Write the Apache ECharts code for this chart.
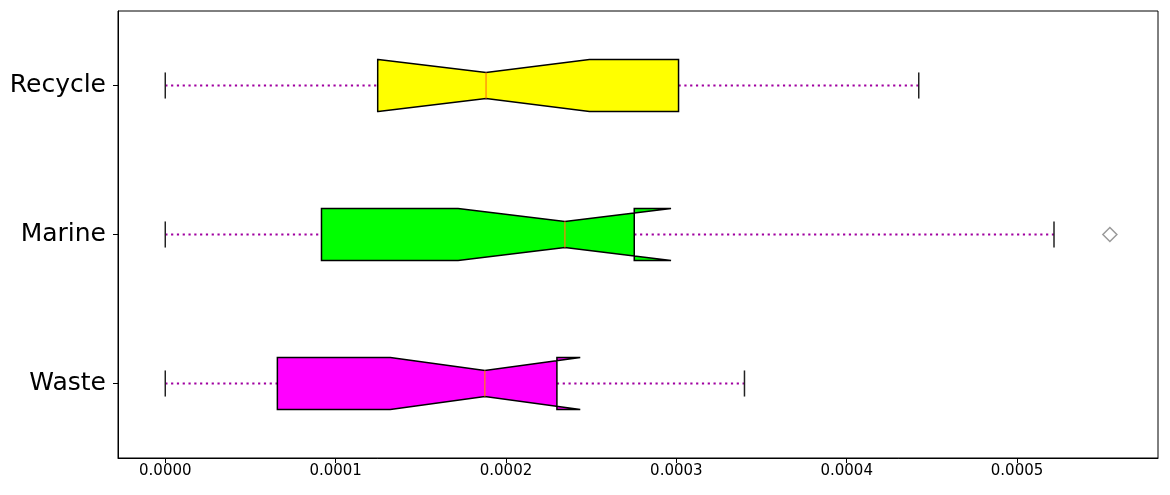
<!DOCTYPE html>
<html>
<head>
<meta charset="utf-8">
<script src="https://cdn.jsdelivr.net/npm/echarts@6/dist/echarts.min.js"></script>
<style>
  html, body { margin: 0; padding: 0; background: #fff; }
  #chart { width: 1170px; height: 495px; }
</style>
</head>
<body>
<div id="chart"></div>
<script>
// Categories listed bottom-to-top (ECharts category axis order)
const categories = ['Waste', 'Marine', 'Recycle'];
const whiskerLow  = [0, 0, 0];
const q1Values    = [0.0000658, 0.0000917, 0.0001247];
const notchLow    = [0.0001321, 0.0001719, 0.0001250];
const medianVals  = [0.0001876, 0.0002346, 0.0001883];
const notchHigh   = [0.0002436, 0.0002969, 0.0002490];
const q3Values    = [0.0002299, 0.0002753, 0.0003013];
const whiskerHigh = [0.0003400, 0.0005217, 0.0004423];
const outlierCat  = ['Marine'];
const outlierVal  = [0.0005545];
const xTicks      = [0, 0.0001, 0.0002, 0.0003, 0.0004, 0.0005];
const xMin = -0.00002775, xMax = 0.00058275;

const fillColors = ['#ff00ff', '#00ff00', '#ffff00'];

const boxData = categories.map((c, i) => [i, whiskerLow[i], q1Values[i], notchLow[i], medianVals[i], notchHigh[i], q3Values[i], whiskerHigh[i]]);
const outlierData = outlierCat.map((c, k) => [outlierVal[k], categories.indexOf(c)]);

function renderItem(params, api) {
  const i = api.value(0);
  const lo = api.value(1), Q1 = api.value(2), cilo = api.value(3), med = api.value(4),
        cihi = api.value(5), Q3 = api.value(6), hi = api.value(7);
  const y = api.coord([0, i])[1];
  const X = v => api.coord([v, i])[0];
  const band = api.size([0, 1])[1];
  const hw = band * 0.35 / 2;
  const nw = hw / 2;
  const cw = hw / 2;
  const pts = [
    [X(Q1), y + hw], [X(Q1), y - hw], [X(cilo), y - hw], [X(med), y - nw],
    [X(cihi), y - hw], [X(Q3), y - hw], [X(Q3), y + hw], [X(cihi), y + hw],
    [X(med), y + nw], [X(cilo), y + hw], [X(Q1), y + hw]
  ];
  const whiskStyle = { stroke: '#a000a0', lineWidth: 2.2, lineDash: [2.2, 3.6], fill: null };
  const capStyle = { stroke: '#222', lineWidth: 1.5 };
  return {
    type: 'group',
    children: [
      { type: 'line', shape: { x1: X(lo), y1: y, x2: X(Q1), y2: y }, style: whiskStyle },
      { type: 'line', shape: { x1: X(Q3), y1: y, x2: X(hi), y2: y }, style: whiskStyle },
      { type: 'line', shape: { x1: X(lo), y1: y - cw, x2: X(lo), y2: y + cw }, style: capStyle },
      { type: 'line', shape: { x1: X(hi), y1: y - cw, x2: X(hi), y2: y + cw }, style: capStyle },
      { type: 'polygon', shape: { points: pts }, style: { fill: fillColors[i], stroke: '#000', lineWidth: 1.5, lineJoin: 'miter' } },
      { type: 'line', shape: { x1: X(med), y1: y - nw, x2: X(med), y2: y + nw }, style: { stroke: '#ff7f0e', lineWidth: 1.2 } }
    ]
  };
}

const chart = echarts.init(document.getElementById('chart'), null, { renderer: 'canvas' });
chart.setOption({
  animation: false,
  backgroundColor: '#fff',
  grid: { left: 118, right: 12, top: 11, bottom: 37, show: true, borderColor: '#000', borderWidth: 1, backgroundColor: 'transparent' },
  xAxis: {
    type: 'value', min: xMin, max: xMax,
    splitLine: { show: false },
    axisLine: { show: true, onZero: false, lineStyle: { color: '#000', width: 1 } },
    axisTick: { show: true, length: 5, customValues: xTicks, lineStyle: { color: '#000', width: 1 } },
    axisLabel: { customValues: xTicks, formatter: v => Number(v).toFixed(4), fontSize: 15, color: '#000', margin: 6, fontFamily: 'DejaVu Sans' }
  },
  yAxis: {
    type: 'category', data: categories,
    axisLine: { show: true, onZero: false, lineStyle: { color: '#000', width: 1 } },
    axisTick: { show: true, alignWithLabel: true, length: 5, lineStyle: { color: '#000', width: 1 } },
    axisLabel: { fontSize: 25, color: '#000', margin: 12, fontFamily: 'DejaVu Sans', padding: [9, 0, 0, 0] },
    splitLine: { show: false }
  },
  series: [
    {
      type: 'custom', renderItem: renderItem, data: boxData,
      encode: { y: 0, x: [1, 2, 3, 4, 5, 6, 7] }, clip: false
    },
    {
      type: 'scatter', data: outlierData, symbol: 'diamond', symbolSize: [14, 14],
      itemStyle: { color: 'rgba(0,0,0,0)', borderColor: '#7f7f7f', borderWidth: 1.5 }
    }
  ]
});
</script>
</body>
</html>
